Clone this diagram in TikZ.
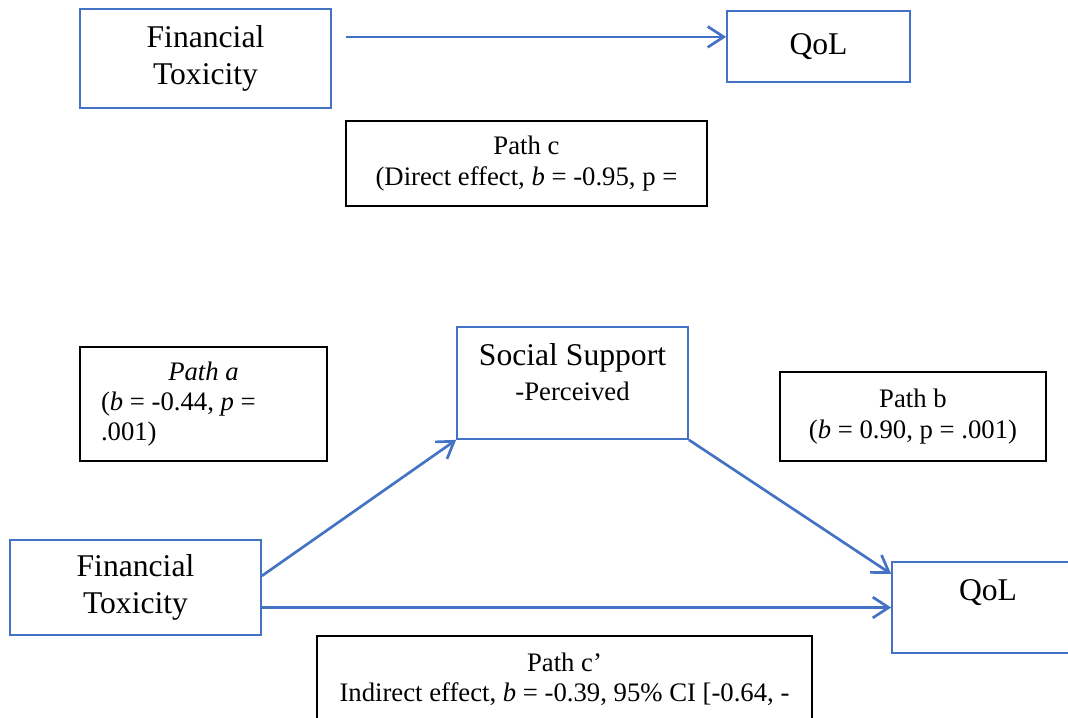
\documentclass[tikz,border=0pt]{standalone}
\usepackage{fontspec}
\setmainfont{Liberation Serif}
\usetikzlibrary{arrows.meta}
\definecolor{wordblue}{RGB}{68,114,196}

\begin{document}
\begin{tikzpicture}[
        bluebox/.style={draw=wordblue, line width=1.2pt, align=center,
            font=\fontsize{22.5}{26.7}\selectfont},
        pathbox/.style={draw=black, line width=0.9pt, align=center,
            font=\fontsize{19}{21.5}\selectfont},
        arr/.style={draw=wordblue, line width=1.9pt,
            -{Straight Barb[length=0.4cm, width=0.52cm]}}
    ]

        \useasboundingbox (0,0) rectangle (26.7,-17.925);
        \clip (0,0) rectangle (26.7,-17.925);

        % Top model (direct effect)
        \node[bluebox, minimum width=6.275cm, minimum height=2.475cm] (FT1) at (5.1375,-1.4625) {Financial\\Toxicity};
        \node[bluebox, minimum width=4.575cm, minimum height=1.775cm] (QoL1) at (20.4625,-1.1625) {QoL};
        \node[pathbox, minimum width=9.025cm, minimum height=2.125cm] (Pc) at (13.1625,-4.0875) {Path c\\(Direct effect, \textit{b} = -0.95, p =};

        % Bottom model (mediator)
        \node[bluebox, minimum width=5.775cm, minimum height=2.8cm] (SS) at (14.3125,-9.575) {};
        \node[align=center, font=\fontsize{22.5}{24.9}\selectfont] (SStext) at ([yshift=0.27cm]SS.center) {Social Support\\{\fontsize{19}{21.5}\selectfont -Perceived}};
        \node[pathbox, minimum width=6.175cm, minimum height=2.85cm, align=left] (Pa) at (5.0875,-10.1) {\makebox[5.125cm]{\textit{Path a}}\\(\textit{b} = -0.44, \textit{p} =\\.001)};
        \node[pathbox, minimum width=6.65cm, minimum height=2.225cm] (Pb) at (22.825,-10.4125) {Path b\\(\textit{b} = 0.90, p = .001)};
        \node[bluebox, minimum width=6.275cm, minimum height=2.375cm] (FT2) at (3.3875,-14.6875) {Financial\\Toxicity};
        \node[bluebox, minimum width=4.8cm, minimum height=2.275cm] (QoL2) at (24.7,-15.1875) {};
        \node[font=\fontsize{22.5}{26.7}\selectfont] (QoL2text) at ([yshift=0.37cm]QoL2.center) {QoL};
        \node[pathbox, minimum width=12.375cm, minimum height=2.15cm] (Pcd) at (14.1125,-16.975) {Path c’\\Indirect effect, \textit{b} = -0.39, 95\% CI [-0.64, -};

        % Arrows
        \draw[arr] ([xshift=0.35cm,yshift=0.54cm]FT1.east) -- ([yshift=0.24cm]QoL1.west);
        \draw[arr] ([yshift=0.29cm]FT2.east) -- (SS.south west);
        \draw[arr] (SS.south east) -- ([yshift=0.84cm]QoL2.west);
        \draw[arr] (FT2.east |- QoL2.west) -- (QoL2.west);

\end{tikzpicture}
\end{document}
